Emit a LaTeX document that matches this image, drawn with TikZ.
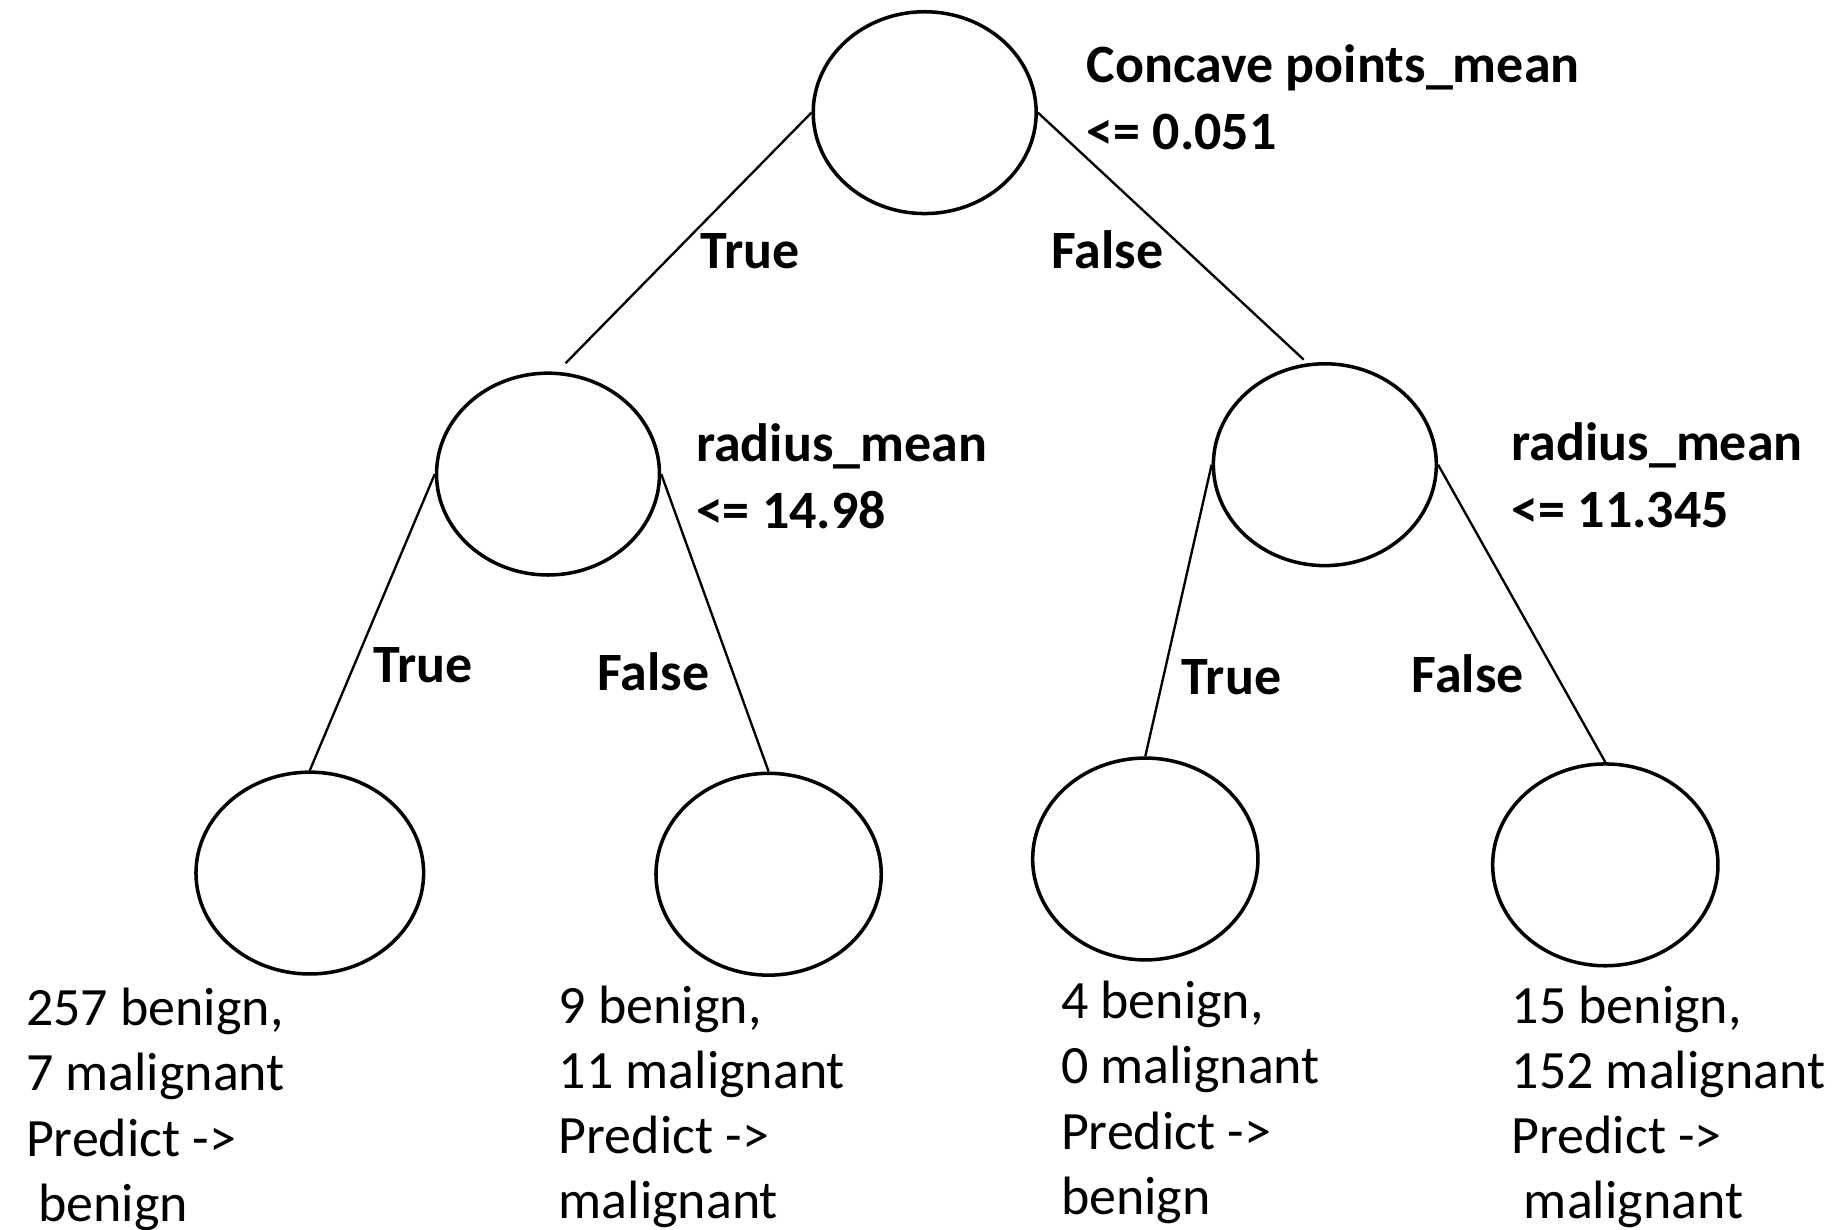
\documentclass[tikz,border=0pt]{standalone}
\usepackage{fontspec}
\setmainfont{Carlito}
\usetikzlibrary{shapes.geometric}
\begin{document}
\begin{tikzpicture}[x=1pt,y=-1pt,
  treenode/.style={ellipse,draw,line width=3pt,minimum width=190pt,minimum height=172pt,inner sep=0pt},
  edge/.style={line width=2pt},
  edgelabel/.style={font=\fontsize{46}{57}\selectfont\bfseries,inner sep=0pt,anchor=base west},
  cond/.style={font=\fontsize{46}{57}\selectfont\bfseries,inner sep=0pt,anchor=north west,align=left},
  leaf/.style={font=\fontsize{46}{55.5}\selectfont,inner sep=0pt,anchor=north west,align=left}]
\useasboundingbox (0,0) rectangle (1568,1048);
% nodes
\node[treenode] (root) at (788,96) {};
\node[treenode] (lm) at (467,404) {};
\node[treenode] (rm) at (1129,396) {};
\node[treenode,minimum width=194pt] (l1) at (264,744) {};
\node[treenode,minimum width=192pt] (l2) at (655,745) {};
\node[treenode,minimum width=192pt] (l3) at (976,732) {};
\node[treenode,minimum width=192pt] (l4) at (1368,737) {};
% connectors
\draw[edge] (root.west) -- ([xshift=15pt,yshift=7pt]lm.north);
\draw[edge] (root.east) -- ([xshift=-18pt,yshift=2pt]rm.north);
\draw[edge] (lm.west) -- (l1.north);
\draw[edge] (lm.east) -- (l2.north);
\draw[edge] (rm.west) -- (l3.north);
\draw[edge] (rm.east) -- (l4.north);
% edge labels
\node[edgelabel] (t1) at (597,229) {True};
\node[edgelabel] (f1) at (896,229) {False};
\node[edgelabel] (t2) at (318,582) {True};
\node[edgelabel] (f2) at (509,588) {False};
\node[edgelabel] (t3) at (1007,592) {True};
\node[edgelabel] (f3) at (1203,590) {False};
% conditions
\node[cond] (c1) at (926,38) {Concave points\_mean\\<= 0.051};
\node[cond] (c2) at (593,361) {radius\_mean\\<= 14.98};
\node[cond] (c3) at (1288,360) {radius\_mean\\<= 11.345};
% leaf texts
\node[leaf] (s1) at (22,842) {257 benign,\\7 malignant\\Predict ->\\\ benign};
\node[leaf] (s2) at (476,840) {9 benign,\\11 malignant\\Predict ->\\malignant};
\node[leaf] (s3) at (904,836) {4 benign,\\0 malignant\\Predict ->\\benign};
\node[leaf] (s4) at (1288,840) {15 benign,\\152 malignant\\Predict ->\\\ malignant};
\end{tikzpicture}
\end{document}
